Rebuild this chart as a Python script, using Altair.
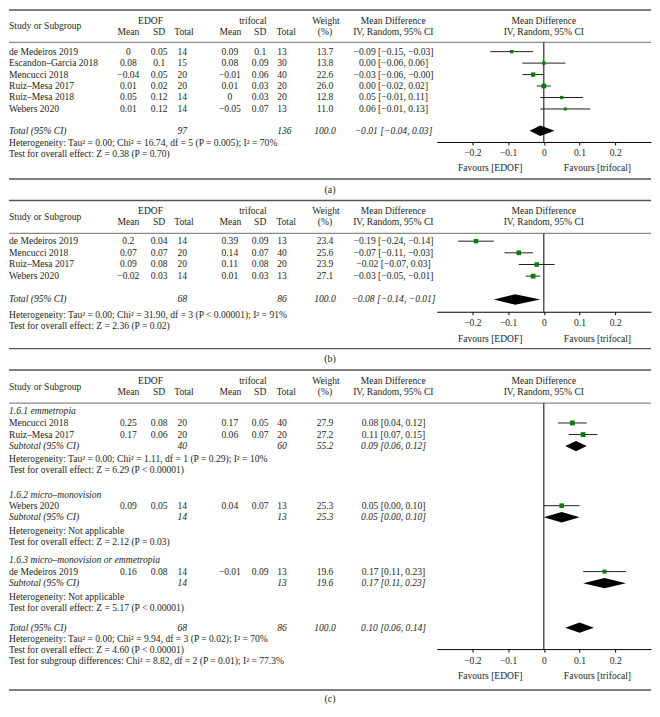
import altair as alt
import pandas as pd

# ------------------------------------------------------------------ data
# (a)
A_STUDY = ["de Medeiros 2019", "Escandon–Garcia 2018", "Mencucci 2018",
           "Ruiz–Mesa 2017", "Ruiz–Mesa 2018", "Webers 2020"]
A_EDOF_MEAN = [0, 0.08, -0.04, 0.01, 0.05, 0.01]
A_EDOF_SD = [0.05, 0.1, 0.05, 0.02, 0.12, 0.12]
A_EDOF_N = [14, 15, 20, 20, 14, 14]
A_TRI_MEAN = [0.09, 0.08, -0.01, 0.01, 0, -0.05]
A_TRI_SD = [0.1, 0.09, 0.06, 0.03, 0.03, 0.07]
A_TRI_N = [13, 30, 40, 20, 20, 13]
A_WEIGHT = [13.7, 13.8, 22.6, 26.0, 12.8, 11.0]
A_MD = [-0.09, 0.00, -0.03, 0.00, 0.05, 0.06]
A_LO = [-0.15, -0.06, -0.06, -0.02, -0.01, -0.01]
A_HI = [-0.03, 0.06, -0.0, 0.02, 0.11, 0.13]
A_TOT_N = [97, 136]
A_TOT_W = [100.0]
A_TOT_MD = [-0.01]
A_TOT_LO = [-0.04]
A_TOT_HI = [0.03]
A_NOTES = ["Heterogeneity: Tau² = 0.00; Chi² = 16.74, df = 5 (P = 0.005); I² = 70%",
           "Test for overall effect: Z = 0.38 (P = 0.70)"]

# (b)
B_STUDY = ["de Medeiros 2019", "Mencucci 2018", "Ruiz–Mesa 2017", "Webers 2020"]
B_EDOF_MEAN = [0.2, 0.07, 0.09, -0.02]
B_EDOF_SD = [0.04, 0.07, 0.08, 0.03]
B_EDOF_N = [14, 20, 20, 14]
B_TRI_MEAN = [0.39, 0.14, 0.11, 0.01]
B_TRI_SD = [0.09, 0.07, 0.08, 0.03]
B_TRI_N = [13, 40, 20, 13]
B_WEIGHT = [23.4, 25.6, 23.9, 27.1]
B_MD = [-0.19, -0.07, -0.02, -0.03]
B_LO = [-0.24, -0.11, -0.07, -0.05]
B_HI = [-0.14, -0.03, 0.03, -0.01]
B_TOT_N = [68, 86]
B_TOT_W = [100.0]
B_TOT_MD = [-0.08]
B_TOT_LO = [-0.14]
B_TOT_HI = [-0.01]
B_NOTES = ["Heterogeneity: Tau² = 0.00; Chi² = 31.90, df = 3 (P < 0.00001); I² = 91%",
           "Test for overall effect: Z = 2.36 (P = 0.02)"]

# (c)
C_GROUPS = ["1.6.1 emmetropia", "1.6.2 micro–monovision",
            "1.6.3 micro–monovision or emmetropia"]
C_STUDY = ["Mencucci 2018", "Ruiz–Mesa 2017", "Webers 2020", "de Medeiros 2019"]
C_EDOF_MEAN = [0.25, 0.17, 0.09, 0.16]
C_EDOF_SD = [0.08, 0.06, 0.05, 0.08]
C_EDOF_N = [20, 20, 14, 14]
C_TRI_MEAN = [0.17, 0.06, 0.04, -0.01]
C_TRI_SD = [0.05, 0.07, 0.07, 0.09]
C_TRI_N = [40, 20, 13, 13]
C_WEIGHT = [27.9, 27.2, 25.3, 19.6]
C_MD = [0.08, 0.11, 0.05, 0.17]
C_LO = [0.04, 0.07, 0.00, 0.11]
C_HI = [0.12, 0.15, 0.10, 0.23]
C_SUB_EDOF_N = [40, 14, 14]
C_SUB_TRI_N = [60, 13, 13]
C_SUB_W = [55.2, 25.3, 19.6]
C_SUB_MD = [0.09, 0.05, 0.17]
C_SUB_LO = [0.06, 0.00, 0.11]
C_SUB_HI = [0.12, 0.10, 0.23]
C_TOT_N = [68, 86]
C_TOT_W = [100.0]
C_TOT_MD = [0.10]
C_TOT_LO = [0.06]
C_TOT_HI = [0.14]
C_NOTES = ["Heterogeneity: Tau² = 0.00; Chi² = 1.11, df = 1 (P = 0.29); I² = 10%",
           "Test for overall effect: Z = 6.29 (P < 0.00001)",
           "Heterogeneity: Not applicable",
           "Test for overall effect: Z = 2.12 (P = 0.03)",
           "Heterogeneity: Not applicable",
           "Test for overall effect: Z = 5.17 (P < 0.00001)",
           "Heterogeneity: Tau² = 0.00; Chi² = 9.94, df = 3 (P = 0.02); I² = 70%",
           "Test for overall effect: Z = 4.60 (P < 0.00001)",
           "Test for subgroup differences: Chi² = 8.82, df = 2 (P = 0.01); I² = 77.3%"]

FAVOURS = ["Favours [EDOF]", "Favours [trifocal]"]
FAV_AT = [-0.15, 0.15]
TICKS = [-0.2, -0.1, 0, 0.1, 0.2]
X_DOMAIN = [-0.3, 0.3]

# ------------------------------------------------------------------ layout
A_ROWS = dict(study=[0, 1, 2, 3, 4, 5], summ=[6.9], notes=[8.0, 8.95], groups=[])
B_ROWS = dict(study=[0, 1, 2, 3], summ=[5.0], notes=[6.37, 7.28], groups=[])
C_ROWS = dict(study=[1, 2, 8.15, 13.85], summ=[3, 9.15, 14.85, 18.7],
              notes=[4.15, 5.1, 10.35, 11.3, 16.05, 17.0, 19.7, 20.65, 21.6],
              groups=[0, 7.2, 12.85])

GA = dict(height=191, y0=42.7, step=11.5, nrows=10, h1=11.5, h2=22.8, hs=17, hl=33.3,
          axis=133.3, fav=159, bottom=170.5, tag_y=181.5, tag="(a)")
GB = dict(height=170, y0=41.8, step=11.7, nrows=8, h1=11.5, h2=23, hs=17.5, hl=34,
          axis=112.6, fav=139.6, bottom=149.6, tag_y=160.5, tag="(b)")
GC = dict(height=337, y0=42.6, step=11.6, nrows=22, h1=12, h2=23.2, hs=18, hl=34.3,
          axis=281, fav=307.6, bottom=322, tag_y=331, tag="(c)")

FONT = "Liberation Serif"
FS = 9.6
INK = "#231f20"
GREEN = "#008000"
W = 644
FX_RANGE = [429, 644]
COL = dict(study=0, m1=119.7, s1=150.7, n1=169, m2=221.5, s2=252, n2=269, wt=317, ci=385.7)


def num(v):
    return f"{v:g}".replace("-", "\u2212")


def ci(m, l, h):
    return f"{m:.2f} [{l:.2f}, {h:.2f}]".replace("-", "\u2212")


def study_frame(rows, study, m1, s1, n1, m2, s2, n2, w, md, lo, hi):
    return pd.DataFrame({
        "row": rows, "study": study,
        "m1": [num(v) for v in m1], "s1": [num(v) for v in s1], "n1": [str(v) for v in n1],
        "m2": [num(v) for v in m2], "s2": [num(v) for v in s2], "n2": [str(v) for v in n2],
        "wt": [f"{v:.1f}" for v in w],
        "ci": [ci(a, b, c) for a, b, c in zip(md, lo, hi)],
        "w": w, "md": md, "lo": lo, "hi": hi})


def summary_frame(rows, labels, n1, n2, w, md, lo, hi):
    return pd.DataFrame({
        "row": rows, "study": labels,
        "n1": [str(v) for v in n1], "n2": [str(v) for v in n2],
        "wt": [f"{v:.1f}" for v in w],
        "ci": [ci(a, b, c) for a, b, c in zip(md, lo, hi)],
        "md": md, "lo": lo, "hi": hi})


def panel(g, studies, summ, notes, groups):
    ys = alt.Scale(domain=[0, g["nrows"]],
                   range=[g["y0"], g["y0"] + g["nrows"] * g["step"]], nice=False, zero=False)
    xs = alt.Scale(domain=X_DOMAIN, range=FX_RANGE, nice=False, zero=False)
    xaxis = alt.Axis(values=TICKS, format=".1~f", offset=g["axis"] - g["height"],
                     domain=True, ticks=True, domainOpacity=1, tickOpacity=1,
                     domainColor="#000000", domainWidth=1, tickColor="#000000", tickSize=3,
                     tickWidth=1, labelFont=FONT, labelFontSize=FS, labelColor=INK,
                     labelPadding=3, grid=False, title=None, labelFlush=False, zindex=1)

    def X(f):
        return alt.X(f"{f}:Q", scale=xs, axis=xaxis)

    def Y(f="row"):
        return alt.Y(f"{f}:Q", scale=ys, axis=None)

    def text(df, field, x, align="center", italic=False):
        return alt.Chart(df).mark_text(
            align=align, baseline="middle", font=FONT, fontSize=FS,
            fontStyle="italic" if italic else "normal", color=INK
        ).encode(x=alt.value(x), y=Y(), text=f"{field}:N")

    def label(t, x, y, align="center", size=FS):
        return alt.Chart(pd.DataFrame({"t": [t]})).mark_text(
            align=align, baseline="middle", font=FONT, fontSize=size, color=INK
        ).encode(x=alt.value(x), y=alt.value(y), text="t:N")

    def hline(y, color, sw):
        return alt.Chart(pd.DataFrame({"k": [0]})).mark_rule(
            color=color, strokeWidth=sw
        ).encode(x=alt.value(0), x2=alt.value(W), y=alt.value(y))

    layers = [hline(1, "#555555", 1.5), hline(g["hl"], "#8a8a8a", 1.3),
              hline(g["bottom"], "#555555", 1.5)]

    # headers
    layers += [
        label("Study or Subgroup", 0, g["hs"], align="left"),
        label("EDOF", 142, g["h1"]), label("trifocal", 244.7, g["h1"]),
        label("Weight", 318, g["h1"]), label("Mean Difference", 385.5, g["h1"]),
        label("Mean Difference", 536.5, g["h1"]),
        label("Mean", 119.7, g["h2"]), label("SD", 150.5, g["h2"]), label("Total", 175.5, g["h2"]),
        label("Mean", 222, g["h2"]), label("SD", 252, g["h2"]), label("Total", 278, g["h2"]),
        label("(%)", 317, g["h2"]), label("IV, Random, 95% CI", 385.5, g["h2"]),
        label("IV, Random, 95% CI", 536.5, g["h2"]),
        label(g["tag"], 322, g["tag_y"], size=10),
    ]

    # table body
    for f in ["m1", "s1", "m2", "s2", "wt", "ci"]:
        layers.append(text(studies, f, COL[f]))
    layers += [text(studies, "study", COL["study"], align="left"),
               text(studies, "n1", COL["n1"], align="left"),
               text(studies, "n2", COL["n2"], align="left")]
    layers += [text(summ, "study", COL["study"], align="left", italic=True),
               text(summ, "n1", COL["n1"], align="left", italic=True),
               text(summ, "n2", COL["n2"], align="left", italic=True),
               text(summ, "wt", COL["wt"], italic=True),
               text(summ, "ci", COL["ci"], italic=True)]
    layers.append(text(notes, "t", 0, align="left"))
    if len(groups):
        layers.append(text(groups, "t", 0, align="left", italic=True))

    # forest plot
    layers.append(alt.Chart(pd.DataFrame({"z": [0.0]})).mark_rule(color="black", strokeWidth=1)
                  .encode(x=X("z"), y=alt.value(g["hl"]), y2=alt.value(g["axis"])))
    layers.append(alt.Chart(studies).mark_rule(color=INK, strokeWidth=1).encode(
        x=X("lo"), x2="hi:Q", y=Y()))
    layers.append(alt.Chart(studies).transform_calculate(sz="datum.w * 0.85")
                  .mark_square(color=GREEN, opacity=1).encode(
        x=X("md"), y=Y(), size=alt.Size("sz:Q", scale=None, legend=None)))
    half = 5.2 / g["step"]
    recs = []
    for i, r in enumerate(summ.itertuples()):
        recs += [dict(id=i, dx=r.lo, ya=r.row, yb=r.row),
                 dict(id=i, dx=r.md, ya=r.row - half, yb=r.row + half),
                 dict(id=i, dx=r.hi, ya=r.row, yb=r.row)]
    dia = pd.DataFrame(recs)
    layers.append(alt.Chart(dia).mark_area(color="black", interpolate="linear", opacity=1).encode(
        x=X("dx"), y=Y("ya"), y2="yb:Q", detail="id:N"))
    layers.append(alt.Chart(pd.DataFrame({"fx": FAV_AT, "t": FAVOURS})).mark_text(
        align="center", baseline="middle", font=FONT, fontSize=FS, color=INK).encode(
        x=X("fx"), y=alt.value(g["fav"]), text="t:N"))

    return alt.layer(*layers).properties(width=W, height=g["height"])


a_st = study_frame(A_ROWS["study"], A_STUDY, A_EDOF_MEAN, A_EDOF_SD, A_EDOF_N,
                   A_TRI_MEAN, A_TRI_SD, A_TRI_N, A_WEIGHT, A_MD, A_LO, A_HI)
a_su = summary_frame(A_ROWS["summ"], ["Total (95% CI)"], [A_TOT_N[0]], [A_TOT_N[1]],
                     A_TOT_W, A_TOT_MD, A_TOT_LO, A_TOT_HI)
a_no = pd.DataFrame({"row": A_ROWS["notes"], "t": A_NOTES})

b_st = study_frame(B_ROWS["study"], B_STUDY, B_EDOF_MEAN, B_EDOF_SD, B_EDOF_N,
                   B_TRI_MEAN, B_TRI_SD, B_TRI_N, B_WEIGHT, B_MD, B_LO, B_HI)
b_su = summary_frame(B_ROWS["summ"], ["Total (95% CI)"], [B_TOT_N[0]], [B_TOT_N[1]],
                     B_TOT_W, B_TOT_MD, B_TOT_LO, B_TOT_HI)
b_no = pd.DataFrame({"row": B_ROWS["notes"], "t": B_NOTES})

c_st = study_frame(C_ROWS["study"], C_STUDY, C_EDOF_MEAN, C_EDOF_SD, C_EDOF_N,
                   C_TRI_MEAN, C_TRI_SD, C_TRI_N, C_WEIGHT, C_MD, C_LO, C_HI)
c_su = summary_frame(C_ROWS["summ"], ["Subtotal (95% CI)"] * 3 + ["Total (95% CI)"],
                     C_SUB_EDOF_N + [C_TOT_N[0]], C_SUB_TRI_N + [C_TOT_N[1]],
                     C_SUB_W + C_TOT_W, C_SUB_MD + C_TOT_MD,
                     C_SUB_LO + C_TOT_LO, C_SUB_HI + C_TOT_HI)
c_no = pd.DataFrame({"row": C_ROWS["notes"], "t": C_NOTES})
c_gr = pd.DataFrame({"row": C_ROWS["groups"], "t": C_GROUPS})

pa = panel(GA, a_st, a_su, a_no, [])
pb = panel(GB, b_st, b_su, b_no, [])
pc = panel(GC, c_st, c_su, c_no, c_gr)

chart = alt.vconcat(pa, pb, pc, spacing=0, bounds="flush", padding=0).configure_view(stroke=None)
chart.save("out.html", embed_options={"renderer": "svg", "actions": False})
